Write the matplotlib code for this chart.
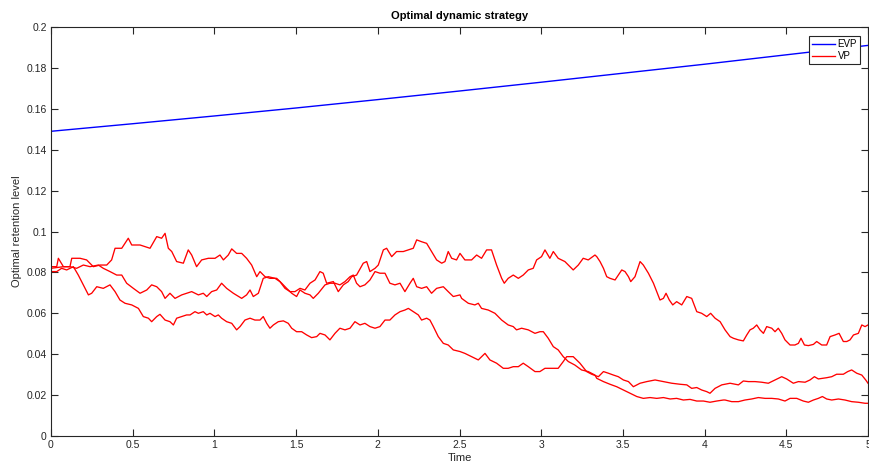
import matplotlib
matplotlib.use("Agg")
import matplotlib.pyplot as plt

plt.rcParams['font.family'] = ['Liberation Sans', 'DejaVu Sans']

# ---------------- data ----------------
evp_t = [0, 0.5, 1, 1.5, 2, 2.5, 3, 3.5, 4, 4.5, 5]
evp_v = [0.1490, 0.1527, 0.1565, 0.1604, 0.1645, 0.1687, 0.1730, 0.1774, 0.1818, 0.1864, 0.1910]

vp1_t = [0.000, 0.035, 0.045, 0.076, 0.116, 0.127, 0.178, 0.218, 0.259, 0.300, 0.341, 0.371, 0.392,
         0.433, 0.473, 0.494, 0.545, 0.606, 0.647, 0.677, 0.698, 0.718, 0.739, 0.769, 0.810, 0.840,
         0.861, 0.891, 0.922, 0.963, 1.004, 1.034, 1.055, 1.085, 1.106, 1.136, 1.167, 1.197, 1.228,
         1.259, 1.279, 1.310, 1.340, 1.381, 1.412, 1.442, 1.473, 1.503, 1.524, 1.554, 1.585, 1.605,
         1.636, 1.677, 1.707, 1.738, 1.768, 1.799, 1.830, 1.850, 1.870, 1.891, 1.921, 1.952, 1.983,
         2.013, 2.044, 2.074, 2.105, 2.136, 2.166, 2.197, 2.217, 2.238, 2.268, 2.299, 2.329, 2.360,
         2.401, 2.431, 2.462, 2.503, 2.513, 2.554, 2.594, 2.615, 2.635, 2.676, 2.717, 2.758, 2.798,
         2.829, 2.849, 2.880, 2.921, 2.962, 2.992, 3.013, 3.043, 3.074, 3.104, 3.135, 3.166, 3.206,
         3.247, 3.288, 3.329, 3.340, 3.381, 3.421, 3.462, 3.503, 3.544, 3.585, 3.625, 3.666, 3.707,
         3.748, 3.789, 3.829, 3.870, 3.911, 3.952, 3.993, 4.033, 4.074, 4.115, 4.125, 4.166, 4.207,
         4.247, 4.288, 4.329, 4.370, 4.411, 4.451, 4.492, 4.523, 4.564, 4.604, 4.635, 4.666, 4.696,
         4.721, 4.747, 4.778, 4.819, 4.859, 4.900, 4.941, 4.982, 5.000]
vp1_v = [0.0828, 0.0828, 0.0869, 0.0828, 0.0828, 0.0869, 0.0869, 0.0861, 0.0828, 0.0836, 0.0836, 0.0861, 0.0918,
         0.0918, 0.0967, 0.0934, 0.0934, 0.0918, 0.0975, 0.0967, 0.0991, 0.0918, 0.0902, 0.0853, 0.0845, 0.0910,
         0.0885, 0.0828, 0.0861, 0.0869, 0.0869, 0.0885, 0.0861, 0.0885, 0.0915, 0.0893, 0.0893, 0.0869, 0.0836,
         0.0779, 0.0804, 0.0779, 0.0771, 0.0771, 0.0747, 0.0722, 0.0698, 0.0682, 0.0714, 0.0698, 0.0690, 0.0673,
         0.0698, 0.0739, 0.0747, 0.0747, 0.0739, 0.0755, 0.0779, 0.0787, 0.0747, 0.0730, 0.0739, 0.0763, 0.0804,
         0.0796, 0.0796, 0.0747, 0.0739, 0.0747, 0.0706, 0.0747, 0.0771, 0.0730, 0.0722, 0.0730, 0.0698, 0.0722,
         0.0730, 0.0706, 0.0682, 0.0690, 0.0673, 0.0649, 0.0641, 0.0649, 0.0624, 0.0616, 0.0600, 0.0567, 0.0543,
         0.0535, 0.0519, 0.0527, 0.0519, 0.0502, 0.0510, 0.0510, 0.0478, 0.0437, 0.0421, 0.0388, 0.0364, 0.0347,
         0.0323, 0.0315, 0.0298, 0.0282, 0.0266, 0.0253, 0.0241, 0.0225, 0.0209, 0.0193, 0.0184, 0.0188, 0.0184,
         0.0188, 0.0181, 0.0184, 0.0176, 0.0179, 0.0171, 0.0171, 0.0165, 0.0171, 0.0176, 0.0176, 0.0168, 0.0168,
         0.0176, 0.0181, 0.0188, 0.0184, 0.0184, 0.0181, 0.0171, 0.0184, 0.0184, 0.0171, 0.0165, 0.0176, 0.0184,
         0.0193, 0.0181, 0.0176, 0.0181, 0.0176, 0.0168, 0.0165, 0.0160, 0.0160]

vp2_t = [0.000, 0.076, 0.116, 0.157, 0.198, 0.239, 0.290, 0.320, 0.361, 0.402, 0.433, 0.463, 0.504,
         0.545, 0.586, 0.616, 0.647, 0.677, 0.698, 0.728, 0.759, 0.800, 0.830, 0.861, 0.902, 0.932,
         0.953, 0.983, 1.014, 1.044, 1.075, 1.116, 1.167, 1.197, 1.218, 1.238, 1.269, 1.299, 1.330,
         1.371, 1.401, 1.432, 1.463, 1.493, 1.524, 1.554, 1.585, 1.616, 1.646, 1.666, 1.687, 1.728,
         1.758, 1.789, 1.819, 1.840, 1.870, 1.911, 1.932, 1.952, 1.983, 2.003, 2.034, 2.054, 2.085,
         2.115, 2.156, 2.187, 2.217, 2.238, 2.268, 2.299, 2.329, 2.360, 2.391, 2.411, 2.431, 2.452,
         2.482, 2.503, 2.533, 2.574, 2.605, 2.635, 2.666, 2.696, 2.727, 2.758, 2.774, 2.798, 2.829,
         2.860, 2.890, 2.921, 2.951, 2.972, 3.002, 3.023, 3.053, 3.074, 3.104, 3.145, 3.176, 3.196,
         3.227, 3.257, 3.288, 3.329, 3.340, 3.360, 3.381, 3.401, 3.421, 3.452, 3.472, 3.493, 3.513,
         3.534, 3.548, 3.574, 3.605, 3.625, 3.656, 3.687, 3.707, 3.727, 3.748, 3.764, 3.784, 3.805,
         3.829, 3.860, 3.891, 3.921, 3.952, 3.982, 4.013, 4.037, 4.064, 4.095, 4.125, 4.156, 4.176,
         4.207, 4.237, 4.258, 4.278, 4.298, 4.319, 4.339, 4.360, 4.380, 4.411, 4.431, 4.451, 4.472,
         4.492, 4.523, 4.553, 4.574, 4.590, 4.611, 4.635, 4.666, 4.686, 4.717, 4.747, 4.768, 4.798,
         4.823, 4.849, 4.870, 4.890, 4.911, 4.941, 4.962, 4.982, 5.000]
vp2_v = [0.0820, 0.0828, 0.0828, 0.0820, 0.0836, 0.0828, 0.0836, 0.0820, 0.0804, 0.0787, 0.0787, 0.0747, 0.0722,
         0.0698, 0.0714, 0.0739, 0.0730, 0.0706, 0.0673, 0.0698, 0.0673, 0.0690, 0.0698, 0.0706, 0.0690, 0.0698,
         0.0682, 0.0706, 0.0714, 0.0747, 0.0722, 0.0698, 0.0673, 0.0690, 0.0714, 0.0682, 0.0698, 0.0771, 0.0779,
         0.0771, 0.0755, 0.0722, 0.0706, 0.0706, 0.0722, 0.0714, 0.0747, 0.0763, 0.0804, 0.0796, 0.0747, 0.0755,
         0.0706, 0.0739, 0.0755, 0.0779, 0.0787, 0.0845, 0.0853, 0.0804, 0.0820, 0.0836, 0.0910, 0.0918, 0.0877,
         0.0902, 0.0902, 0.0910, 0.0918, 0.0959, 0.0950, 0.0942, 0.0902, 0.0861, 0.0845, 0.0853, 0.0902, 0.0869,
         0.0861, 0.0893, 0.0861, 0.0861, 0.0885, 0.0869, 0.0910, 0.0910, 0.0836, 0.0771, 0.0747, 0.0771, 0.0787,
         0.0771, 0.0787, 0.0812, 0.0820, 0.0861, 0.0877, 0.0910, 0.0869, 0.0902, 0.0869, 0.0853, 0.0828, 0.0812,
         0.0836, 0.0869, 0.0861, 0.0885, 0.0877, 0.0853, 0.0820, 0.0779, 0.0771, 0.0763, 0.0787, 0.0812, 0.0804,
         0.0779, 0.0755, 0.0779, 0.0853, 0.0836, 0.0796, 0.0747, 0.0706, 0.0665, 0.0673, 0.0698, 0.0665, 0.0641,
         0.0657, 0.0641, 0.0682, 0.0673, 0.0608, 0.0600, 0.0584, 0.0600, 0.0576, 0.0559, 0.0519, 0.0486, 0.0478,
         0.0470, 0.0465, 0.0494, 0.0519, 0.0527, 0.0543, 0.0519, 0.0502, 0.0535, 0.0527, 0.0510, 0.0527, 0.0502,
         0.0470, 0.0445, 0.0445, 0.0453, 0.0478, 0.0445, 0.0442, 0.0448, 0.0462, 0.0445, 0.0445, 0.0486, 0.0494,
         0.0502, 0.0462, 0.0462, 0.0470, 0.0494, 0.0502, 0.0543, 0.0535, 0.0543]

vp3_t = [0.000, 0.035, 0.065, 0.096, 0.137, 0.167, 0.198, 0.229, 0.249, 0.280, 0.320, 0.361, 0.392,
         0.422, 0.453, 0.494, 0.535, 0.565, 0.596, 0.616, 0.647, 0.667, 0.698, 0.728, 0.749, 0.769,
         0.800, 0.830, 0.851, 0.881, 0.902, 0.932, 0.953, 0.973, 1.004, 1.024, 1.044, 1.075, 1.106,
         1.136, 1.157, 1.187, 1.218, 1.248, 1.279, 1.299, 1.320, 1.340, 1.361, 1.391, 1.422, 1.452,
         1.473, 1.503, 1.534, 1.565, 1.595, 1.626, 1.646, 1.677, 1.707, 1.738, 1.768, 1.799, 1.830,
         1.860, 1.891, 1.921, 1.952, 1.983, 2.013, 2.044, 2.074, 2.105, 2.136, 2.166, 2.187, 2.217,
         2.248, 2.268, 2.299, 2.319, 2.340, 2.370, 2.401, 2.431, 2.462, 2.503, 2.533, 2.574, 2.615,
         2.656, 2.686, 2.727, 2.768, 2.798, 2.829, 2.860, 2.890, 2.921, 2.962, 2.992, 3.023, 3.064,
         3.104, 3.135, 3.156, 3.196, 3.237, 3.278, 3.309, 3.350, 3.381, 3.411, 3.442, 3.472, 3.503,
         3.534, 3.564, 3.605, 3.646, 3.697, 3.748, 3.799, 3.850, 3.891, 3.921, 3.952, 3.982, 4.013,
         4.033, 4.064, 4.105, 4.156, 4.207, 4.237, 4.268, 4.309, 4.349, 4.390, 4.431, 4.472, 4.502,
         4.543, 4.574, 4.615, 4.645, 4.672, 4.696, 4.721, 4.747, 4.778, 4.808, 4.849, 4.876, 4.900,
         4.931, 4.962, 4.986, 5.000]
vp3_v = [0.0804, 0.0804, 0.0820, 0.0812, 0.0828, 0.0787, 0.0739, 0.0690, 0.0698, 0.0730, 0.0722, 0.0739, 0.0706,
         0.0665, 0.0649, 0.0641, 0.0624, 0.0584, 0.0576, 0.0559, 0.0584, 0.0595, 0.0567, 0.0559, 0.0543, 0.0576,
         0.0584, 0.0592, 0.0592, 0.0608, 0.0600, 0.0608, 0.0592, 0.0600, 0.0584, 0.0592, 0.0576, 0.0559, 0.0551,
         0.0519, 0.0535, 0.0567, 0.0576, 0.0567, 0.0567, 0.0584, 0.0551, 0.0527, 0.0543, 0.0559, 0.0563, 0.0551,
         0.0527, 0.0510, 0.0510, 0.0494, 0.0481, 0.0486, 0.0502, 0.0494, 0.0470, 0.0502, 0.0527, 0.0519, 0.0527,
         0.0559, 0.0543, 0.0551, 0.0535, 0.0527, 0.0535, 0.0567, 0.0567, 0.0592, 0.0608, 0.0616, 0.0624, 0.0608,
         0.0592, 0.0567, 0.0576, 0.0567, 0.0535, 0.0486, 0.0453, 0.0445, 0.0421, 0.0413, 0.0404, 0.0388, 0.0372,
         0.0404, 0.0372, 0.0356, 0.0331, 0.0331, 0.0339, 0.0339, 0.0356, 0.0339, 0.0315, 0.0315, 0.0331, 0.0331,
         0.0331, 0.0364, 0.0388, 0.0388, 0.0356, 0.0315, 0.0302, 0.0290, 0.0315, 0.0307, 0.0298, 0.0290, 0.0274,
         0.0266, 0.0241, 0.0258, 0.0266, 0.0274, 0.0266, 0.0258, 0.0253, 0.0250, 0.0233, 0.0237, 0.0225, 0.0217,
         0.0209, 0.0233, 0.0250, 0.0258, 0.0250, 0.0269, 0.0266, 0.0266, 0.0263, 0.0258, 0.0274, 0.0290, 0.0279,
         0.0258, 0.0266, 0.0263, 0.0274, 0.0290, 0.0279, 0.0282, 0.0285, 0.0290, 0.0302, 0.0302, 0.0315, 0.0323,
         0.0307, 0.0298, 0.0274, 0.0258]

x_ticks = [0, 0.5, 1, 1.5, 2, 2.5, 3, 3.5, 4, 4.5, 5]
x_labels = ['0', '0.5', '1', '1.5', '2', '2.5', '3', '3.5', '4', '4.5', '5']
y_ticks = [0, 0.02, 0.04, 0.06, 0.08, 0.1, 0.12, 0.14, 0.16, 0.18, 0.2]
y_labels = ['0', '0.02', '0.04', '0.06', '0.08', '0.1', '0.12', '0.14', '0.16', '0.18', '0.2']

# ---------------- figure ----------------
fig = plt.figure(figsize=(8.69, 4.74), dpi=100)
ax = fig.add_axes([51 / 869, 38 / 474, 817 / 869, 409 / 474])

axc = '#262626'
ax.plot(evp_t, evp_v, color='#0000ff', lw=1.0, label='EVP')
ax.plot(vp1_t, vp1_v, color='#ff0000', lw=0.95, label='VP')
ax.plot(vp2_t, vp2_v, color='#ff0000', lw=0.95)
ax.plot(vp3_t, vp3_v, color='#ff0000', lw=0.95)

ax.set_xlim(0, 5)
ax.set_ylim(0, 0.2)
ax.set_xticks(x_ticks)
ax.set_xticklabels(x_labels)
ax.set_yticks(y_ticks)
ax.set_yticklabels(y_labels)
ax.tick_params(direction='in', length=5, width=0.8, colors=axc, labelsize=7.5,
               top=True, right=True, pad=3)
for s in ax.spines.values():
    s.set_color(axc)
    s.set_linewidth(0.8)

ax.set_title('Optimal dynamic strategy', fontsize=8, fontweight='bold', color='black', pad=6)
ax.set_xlabel('Time', fontsize=8, color=axc, labelpad=2)
ax.set_ylabel('Optimal retention level', fontsize=8, color=axc, labelpad=3)

leg = ax.legend(loc='upper right', bbox_to_anchor=(0.990, 0.978), borderaxespad=0,
                fontsize=7, fancybox=False, framealpha=1, edgecolor=axc,
                handlelength=2.3, handletextpad=0.3, borderpad=0.3, labelspacing=0.25)
leg.get_frame().set_linewidth(0.8)

fig.savefig('out.png', dpi=100)
